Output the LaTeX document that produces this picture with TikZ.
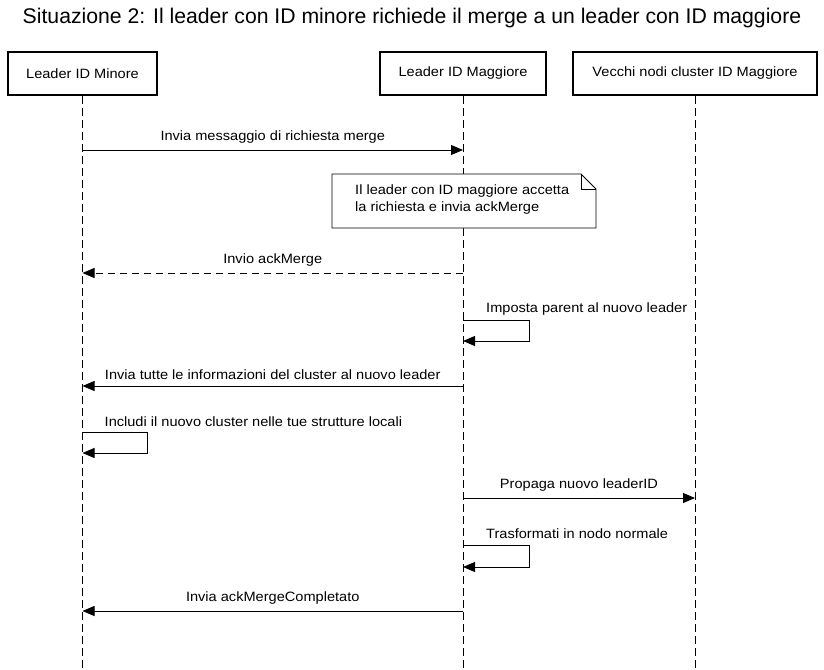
\documentclass[tikz,border=0pt]{standalone}
\usepackage{fontspec}
\setmainfont{Liberation Sans}
\newfontfamily\etichetta[FakeStretch=1.08]{Liberation Sans}
\usetikzlibrary{arrows.meta,positioning}

\begin{document}
\begin{tikzpicture}[x=1pt,y=-1pt,
  attore/.style={draw,line width=1.6pt,minimum height=43pt,inner sep=0pt,font=\etichetta\fontsize{13.5}{17}\selectfont},
  vita/.style={line width=0.8pt,dash pattern=on 8pt off 4pt},
  msg/.style={line width=0.9pt,-{Triangle[length=12pt,width=10pt]}},
  ritorno/.style={msg,dash pattern=on 7pt off 5pt},
  lab/.style={inner sep=0pt,font=\etichetta\fontsize{13.5}{17}\selectfont}]
\useasboundingbox (0,0) rectangle (824,669);
\node[font=\fontsize{21.2}{25}\selectfont] (titolo) at (412,18) {Situazione 2: Il leader con ID minore richiede il merge a un leader con ID maggiore};

% partecipanti
\node[attore,minimum width=149pt] (LMin) at (82.5,73.5) {Leader ID Minore};
\node[attore,minimum width=166pt] (LMag) at (463,73.5) {Leader ID Maggiore};
\node[attore,minimum width=244pt] (VNodi) at (695,73.5) {Vecchi nodi cluster ID Maggiore};
\coordinate (LMinFine) at (LMin.south |- 0,669);
\coordinate (LMagFine) at (LMag.south |- 0,669);
\coordinate (VNodiFine) at (VNodi.south |- 0,669);
\draw[vita] (LMin.south) -- (LMinFine);
\draw[vita] (LMag.south) -- (LMagFine);
\draw[vita] (VNodi.south) -- (VNodiFine);

% punti dei messaggi
\coordinate (m1a) at (LMin |- 0,150);  \coordinate (m1b) at (LMag |- 0,150);
\coordinate (m2a) at (LMag |- 0,273);  \coordinate (m2b) at (LMin |- 0,273);
\coordinate (s1a) at (LMag |- 0,320);  \coordinate (s1b) at (LMag |- 0,341);
\coordinate (m3a) at (LMag |- 0,386);  \coordinate (m3b) at (LMin |- 0,386);
\coordinate (s2a) at (LMin |- 0,432);  \coordinate (s2b) at (LMin |- 0,453);
\coordinate (m4a) at (LMag |- 0,498);  \coordinate (m4b) at (VNodi |- 0,498);
\coordinate (s3a) at (LMag |- 0,545);  \coordinate (s3b) at (LMag |- 0,567);
\coordinate (m5a) at (LMag |- 0,611);  \coordinate (m5b) at (LMin |- 0,611);

% nota
\draw[line width=0.8pt,fill=white] (332,174) -- (581,174) -- (596,189) -- (596,228) -- (332,228) -- cycle;
\draw[line width=0.8pt] (581,174) -- (581,189) -- (596,189);
\node[lab,align=left,anchor=west] (nota) at (355,199.5) {Il leader con ID maggiore accetta\\la richiesta e invia ackMerge};

% messaggi
\draw[msg] (m1a) -- node[lab,above=6pt] {Invia messaggio di richiesta merge} (m1b);
\draw[ritorno] (m2a) -- node[lab,above=6pt] {Invio ackMerge} (m2b);
\draw[msg] (s1a) -- ++(66,0) |- (s1b);
\node[lab,anchor=south west] (s1lab) at ([xshift=23pt,yshift=5pt]s1a) {Imposta parent al nuovo leader};
\draw[msg] (m3a) -- node[lab,above=6pt] {Invia tutte le informazioni del cluster al nuovo leader} (m3b);
\draw[msg] (s2a) -- ++(65,0) |- (s2b);
\node[lab,anchor=south west] (s2lab) at ([xshift=22pt,yshift=5pt]s2a) {Includi il nuovo cluster nelle tue strutture locali};
\draw[msg] (m4a) -- node[lab,above=6pt] {Propaga nuovo leaderID} (m4b);
\draw[msg] (s3a) -- ++(66,0) |- (s3b);
\node[lab,anchor=south west] (s3lab) at ([xshift=23pt,yshift=6pt]s3a) {Trasformati in nodo normale};
\draw[msg] (m5a) -- node[lab,above=6pt] {Invia ackMergeCompletato} (m5b);
\end{tikzpicture}
\end{document}
